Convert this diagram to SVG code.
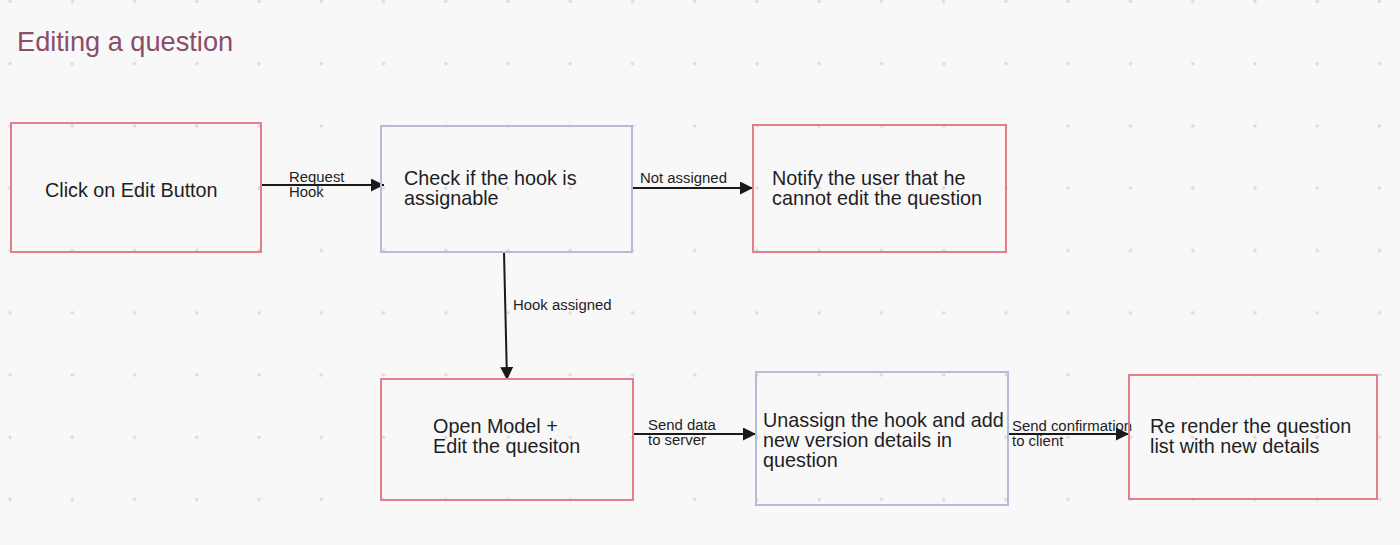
<svg xmlns="http://www.w3.org/2000/svg" width="1400" height="545" viewBox="0 0 1400 545">
<defs>
<pattern id="dots" x="10" y="1.5" width="62.25" height="62.25" patternUnits="userSpaceOnUse">
<path d="M-1.8,0 H1.8 M0,-1.8 V1.8" stroke="#d6d6de" stroke-width="1.4"/>
<path d="M60.45,0 H64 M62.25,-1.8 V1.8 M-1.8,62.25 H1.8 M0,60.45 V64 M60.45,62.25 H64 M62.25,60.45 V64" stroke="#d6d6de" stroke-width="1.4"/>
</pattern>
<marker id="arr" viewBox="0 0 10 10" refX="10" refY="5" markerWidth="6.5" markerHeight="6.5" orient="auto" markerUnits="strokeWidth">
<path d="M0,0 L10,5 L0,10 z" fill="#1a1a1a"/>
</marker>
<style>
.pink{fill:none;stroke:#e27f8b;stroke-width:2}
.blue{fill:none;stroke:#b4bcd8;stroke-width:2}
.t{font-family:"Liberation Sans",Arial,sans-serif;font-size:19.8px;fill:#1e1e24}
.l{font-family:"Liberation Sans",Arial,sans-serif;font-size:14.9px;fill:#1e1e24}
.c{fill:none;stroke:#1a1a1a;stroke-width:2;marker-end:url(#arr)}
</style>
</defs>
<rect width="1400" height="545" fill="#f8f8f9"/>
<rect width="1400" height="545" fill="url(#dots)"/>
<text x="17" y="51" font-family="'Liberation Sans',Arial,sans-serif" font-size="27.2" fill="#8a4e68">Editing a question</text>
<g id="connectors">
<line class="c" x1="262" y1="185" x2="384" y2="185"/>
<line class="c" x1="633" y1="188" x2="753" y2="188"/>
<line class="c" x1="504" y1="252" x2="507" y2="380"/>
<line class="c" x1="634" y1="434" x2="756" y2="434"/>
<line class="c" x1="1009" y1="434" x2="1129" y2="434"/>
<text class="l" x="289" y="182">Request</text>
<text class="l" x="289" y="197">Hook</text>
<text class="l" x="640" y="183">Not assigned</text>
<text class="l" x="513" y="310">Hook assigned</text>
<text class="l" x="648" y="430">Send data</text>
<text class="l" x="648" y="445">to server</text>
<text class="l" x="1012" y="431" font-size="14.2">Send confirmation</text>
<text class="l" x="1012" y="446" font-size="14.2">to client</text>
</g>
<g id="n1"><rect class="pink" x="11" y="123" width="250" height="129"/><text class="t" x="45" y="197">Click on Edit Button</text></g>
<g id="n2"><rect class="blue" x="381" y="126" width="251" height="126"/><text class="t" x="404" y="185">Check if the hook is</text><text class="t" x="404" y="205">assignable</text></g>
<g id="n3"><rect class="pink" x="753" y="125" width="253" height="127"/><text class="t" x="772" y="185">Notify the user that he</text><text class="t" x="772" y="205">cannot edit the question</text></g>
<g id="n4"><rect class="pink" x="381" y="379" width="252" height="121"/><text class="t" x="433" y="433">Open Model +</text><text class="t" x="433" y="453">Edit the quesiton</text></g>
<g id="n5"><rect class="blue" x="756" y="372" width="252" height="133"/><text class="t" x="763" y="427">Unassign the hook and add</text><text class="t" x="763" y="447">new version details in</text><text class="t" x="763" y="467">question</text></g>
<g id="n6"><rect class="pink" x="1129" y="375" width="248" height="124"/><text class="t" x="1150" y="432.5">Re render the question</text><text class="t" x="1150" y="452.5">list with new details</text></g>
</svg>
